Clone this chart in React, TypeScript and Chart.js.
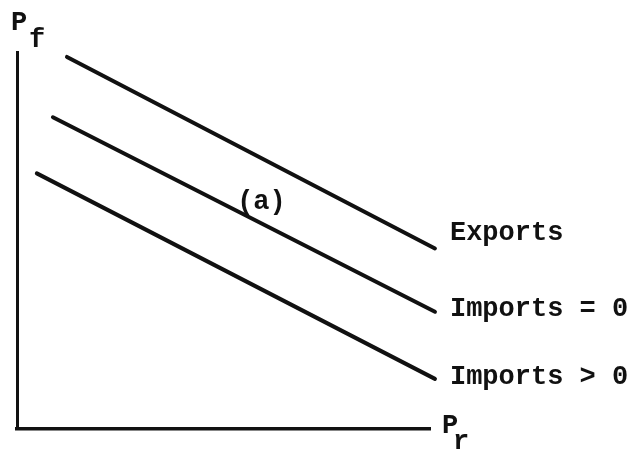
import React, { useEffect, useRef } from "react";
import { Chart, registerables } from "chart.js";

Chart.register(...registerables);

// Curve data (arbitrary units: x = P_r, y = P_f)
const curveNames = ["Exports", "Imports = 0", "Imports > 0"];
const exportsX = [1.21, 10.12];
const exportsY = [9.87, 4.79];
const importsZeroX = [0.87, 10.12];
const importsZeroY = [8.27, 3.11];
const importsPosX = [0.48, 10.12];
const importsPosY = [6.78, 1.33];

const xAxisLabel = ["P", "r"];
const yAxisLabel = ["P", "f"];
const pointLabel = "(a)";
const pointLabelPos = [5.5, 5.7];

const FONT = "bold 27px 'Liberation Mono', 'DejaVu Sans Mono', monospace";
const INK = "#111";

const toPts = (xs: number[], ys: number[]) => xs.map((x, i) => ({ x, y: ys[i] }));

const labelsPlugin = {
  id: "diagramLabels",
  afterDraw(chart: any) {
    const { ctx, chartArea, scales } = chart;
    const xs = scales.x;
    const ys = scales.y;
    ctx.save();
    ctx.fillStyle = INK;
    ctx.font = FONT;
    ctx.textBaseline = "alphabetic";
    ctx.textAlign = "left";
    // curve labels at the right end of each curve
    const ends = [
      [exportsX[1], exportsY[1], -8],
      [importsZeroX[1], importsZeroY[1], 4],
      [importsPosX[1], importsPosY[1], 5],
    ];
    curveNames.forEach((name, i) => {
      const px = xs.getPixelForValue(ends[i][0]) + 15;
      const py = ys.getPixelForValue(ends[i][1]) + ends[i][2];
      ctx.fillText(name, px, py);
    });
    // (a)
    ctx.fillText(pointLabel, xs.getPixelForValue(pointLabelPos[0]) - 7, ys.getPixelForValue(pointLabelPos[1]) - 5);
    // axis labels
    ctx.fillText(yAxisLabel[0], chartArea.left - 6, chartArea.top - 22);
    ctx.fillText(yAxisLabel[1], chartArea.left + 12, chartArea.top - 5);
    ctx.fillText(xAxisLabel[0], chartArea.right + 12, chartArea.bottom + 4);
    ctx.fillText(xAxisLabel[1], chartArea.right + 23, chartArea.bottom + 20);
    ctx.restore();
  },
};

export default function App() {
  const ref = useRef<HTMLCanvasElement | null>(null);
  useEffect(() => {
    if (!ref.current) return;
    const lineStyle = {
      showLine: true,
      pointRadius: 0,
      borderColor: INK,
      borderWidth: 4,
      borderCapStyle: "round" as const,
      clip: false as any,
      fill: false,
    };
    const chart = new Chart(ref.current, {
      type: "scatter",
      data: {
        datasets: [
          { label: curveNames[0], data: toPts(exportsX, exportsY), ...lineStyle },
          { label: curveNames[1], data: toPts(importsZeroX, importsZeroY), ...lineStyle },
          { label: curveNames[2], data: toPts(importsPosX, importsPosY), ...lineStyle },
        ],
      },
      options: {
        responsive: false,
        animation: false,
        layout: { padding: { left: 9, right: 199, top: 52, bottom: 12 } },
        plugins: { legend: { display: false }, tooltip: { enabled: false } },
        scales: {
          x: {
            type: "linear",
            min: 0,
            max: 10,
            grid: { display: false },
            ticks: { display: false },
            border: { display: true, color: INK, width: 3.5 },
          },
          y: {
            type: "linear",
            min: 0,
            max: 10,
            grid: { display: false },
            ticks: { display: false },
            border: { display: true, color: INK, width: 3 },
          },
        },
      },
      plugins: [labelsPlugin],
    });
    return () => chart.destroy();
  }, []);
  return (
    <div style={{ position: "fixed", left: 0, top: 0, width: 629, height: 449, background: "#fff" }}>
      <canvas ref={ref} width={629} height={449} />
    </div>
  );
}
